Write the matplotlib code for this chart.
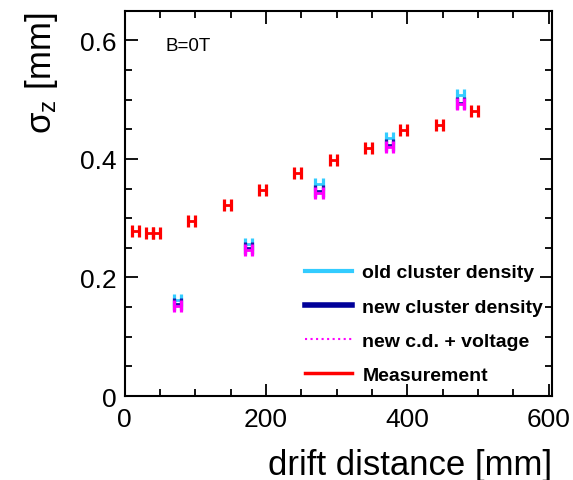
import matplotlib.pyplot as plt
import numpy as np

plt.rcParams['font.family'] = ['Liberation Sans', 'DejaVu Sans']

# measurement
meas_x = [15, 35, 45, 95, 145, 195, 245, 295, 345, 395, 445, 495]
meas_y = [0.278, 0.275, 0.275, 0.296, 0.322, 0.347, 0.376, 0.399, 0.418, 0.449, 0.457, 0.480]

# simulation
sim_x = [75, 175, 275, 375, 475]
old_cd = [0.162, 0.256, 0.357, 0.435, 0.508]
new_cd = [0.156, 0.250, 0.346, 0.423, 0.495]
new_cd_volt = [0.152, 0.246, 0.342, 0.420, 0.492]

fig = plt.figure(figsize=(5.73, 4.81), dpi=100)
ax = fig.add_axes([0.2173, 0.1746, 0.7466, 0.7998])

def hbar(x, y, color):
  ax.errorbar(x, y, xerr=5, fmt='none', ecolor=color, elinewidth=2.0,
              capsize=4.5, capthick=2.3)

hbar(sim_x, old_cd, '#33ccff')
hbar(sim_x, new_cd, '#1a1aa6')
hbar(sim_x, new_cd_volt, '#ff00ff')
hbar(meas_x, meas_y, '#ff0000')

# legend handles
ax.plot([], [], color='#33ccff', lw=3, label='old cluster density')
ax.plot([], [], color='#000099', lw=4, label='new cluster density')
ax.plot([], [], color='#ff00ff', lw=1.5, ls=':', label='new c.d. + voltage')
ax.plot([], [], color='#ff0000', lw=2.5, label='Measurement')
ax.legend(loc='lower right', frameon=False, handlelength=2.4, handletextpad=0.55,
          labelspacing=0.85, prop={'weight': 'bold', 'size': 14},
          bbox_to_anchor=(1.02, -0.014))

ax.text(0.095, 0.9, 'B=0T', transform=ax.transAxes, fontsize=13.5)

ax.set_xlim(0, 605)
ax.set_ylim(0, 0.649)
ax.set_xticks([0, 200, 400, 600])
ax.set_xticks(np.arange(0, 601, 50), minor=True)
ax.set_yticks([0, 0.2, 0.4, 0.6])
ax.set_yticklabels(['0', '0.2', '0.4', '0.6'])
ax.set_yticks(np.arange(0, 0.65, 0.05), minor=True)
ax.tick_params(which='both', direction='in', top=True, right=True, width=1.3)
ax.tick_params(which='major', length=9, labelsize=19, pad=6)
ax.tick_params(axis='x', which='major', pad=8)
ax.tick_params(which='minor', length=5)
for s in ax.spines.values():
  s.set_linewidth(1.5)

ax.set_xlabel('drift distance [mm]', fontsize=25, loc='right', labelpad=12)
ax.set_ylabel(r'$\mathregular{\sigma_z}$ [mm]', fontsize=25, loc='top', labelpad=14)

fig.savefig('out.png', dpi=100)
